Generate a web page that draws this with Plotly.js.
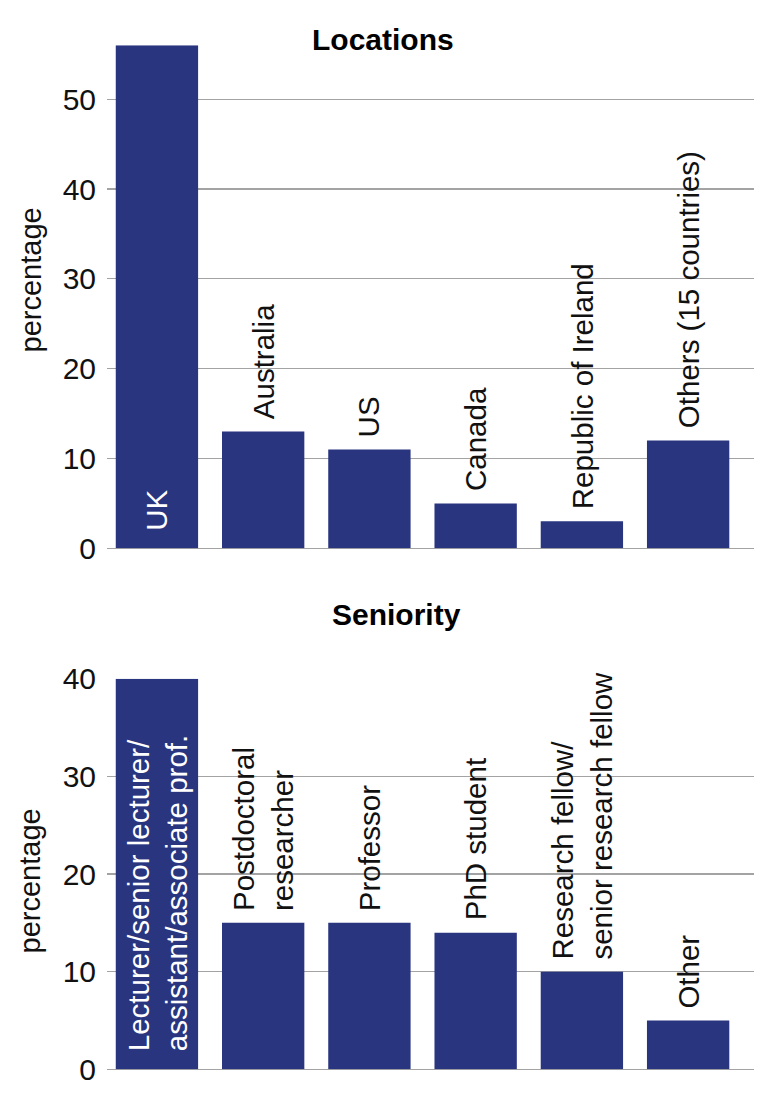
<!DOCTYPE html>
<html>
<head>
<meta charset="utf-8">
<script src="https://cdn.plot.ly/plotly-3.0.1.min.js"></script>
<style>
html,body{margin:0;padding:0;background:#ffffff;}
#chart{width:780px;height:1102px;}
</style>
</head>
<body>
<div id="chart"></div>
<script>
// ---- data ----
const locCategories = ['UK', 'Australia', 'US', 'Canada', 'Republic of Ireland', 'Others (15 countries)'];
const locValues = [56, 13, 11, 5, 3, 12];
const locLabels = ['UK', 'Australia', 'US', 'Canada', 'Republic of Ireland', 'Others (15 countries)'];

const senCategories = ['Lecturer/senior lecturer/assistant/associate prof.', 'Postdoctoral researcher', 'Professor', 'PhD student', 'Research fellow/senior research fellow', 'Other'];
const senValues = [40, 15, 15, 14, 10, 5];
const senLabels = ['Lecturer/senior lecturer/<br>assistant/associate prof.', 'Postdoctoral<br>researcher', 'Professor', 'PhD student', 'Research fellow/<br>senior research fellow', 'Other'];

const topTicks = [0, 10, 20, 30, 40, 50];
const bottomTicks = [0, 10, 20, 30, 40];

const topTitle = 'Locations';
const bottomTitle = 'Seniority';
const yTitle = 'percentage';

// ---- styles ----
const BAR = '#29357f';
const GRID = '#a3a3a3';
const INK = '#111111';
const SANS = 'Liberation Sans, Arial, sans-serif';

const traces = [
  {type: 'bar', x: locCategories, y: locValues, xaxis: 'x', yaxis: 'y',
   marker: {color: BAR}, hoverinfo: 'x+y', showlegend: false},
  {type: 'bar', x: senCategories, y: senValues, xaxis: 'x2', yaxis: 'y2',
   marker: {color: BAR}, hoverinfo: 'x+y', showlegend: false}
];

function barLabels(cats, vals, labels, xref, yref) {
  const maxV = Math.max(...vals);
  return cats.map((c, i) => {
    const inside = vals[i] === maxV;
    return {
      xref: xref, yref: yref, x: c, y: inside ? 0 : vals[i],
      xanchor: 'center', yanchor: 'bottom', yshift: inside ? 16 : 10,
      textangle: -90, align: 'left', showarrow: false, text: labels[i],
      font: {family: SANS, size: 29.5, color: inside ? '#ffffff' : INK}
    };
  });
}

const annotations = []
  .concat(barLabels(locCategories, locValues, locLabels, 'x', 'y'))
  .concat(barLabels(senCategories, senValues, senLabels, 'x2', 'y2'))
  .concat([
    {xref: 'paper', yref: 'paper', x: 0.4266, y: 0.9646, xanchor: 'center', yanchor: 'middle',
     showarrow: false, text: topTitle, font: {family: SANS, size: 30, color: '#000', weight: 'bold'}},
    {xref: 'paper', yref: 'paper', x: 0.4482, y: 0.4428, xanchor: 'center', yanchor: 'middle',
     showarrow: false, text: bottomTitle, font: {family: SANS, size: 30, color: '#000', weight: 'bold'}},
    {xref: 'paper', yref: 'paper', x: -0.1175, y: 0.7464, xanchor: 'center', yanchor: 'middle',
     textangle: -90, showarrow: false, text: yTitle, font: {family: SANS, size: 29, color: INK}},
    {xref: 'paper', yref: 'paper', x: -0.1175, y: 0.2010, xanchor: 'center', yanchor: 'middle',
     textangle: -90, showarrow: false, text: yTitle, font: {family: SANS, size: 29, color: INK}}
  ]);

const xCommon = {type: 'category', range: [-0.47, 5.62], showticklabels: false, showgrid: false,
  zeroline: false, showline: false, ticks: '', fixedrange: true};
const yCommon = {showgrid: true, gridcolor: GRID, gridwidth: 1.2, zeroline: true, zerolinecolor: GRID,
  zerolinewidth: 1.2, showline: false, ticks: '', ticklabelstandoff: 10,
  tickfont: {family: SANS, size: 30, color: INK}, fixedrange: true};

const layout = {
  width: 780, height: 1102,
  margin: {l: 107, r: 26, t: 0, b: 0, pad: 0},
  paper_bgcolor: '#ffffff', plot_bgcolor: '#ffffff',
  font: {family: SANS},
  bargap: 0.225,
  showlegend: false,
  xaxis: Object.assign({}, xCommon, {domain: [0, 1], anchor: 'y'}),
  yaxis: Object.assign({}, yCommon, {domain: [0.50245, 0.95889], range: [0, 56], tickvals: topTicks, ticktext: topTicks.map(String), anchor: 'x'}),
  xaxis2: Object.assign({}, xCommon, {domain: [0, 1], anchor: 'y2'}),
  yaxis2: Object.assign({}, yCommon, {domain: [0.02967, 0.38403], range: [0, 40], tickvals: bottomTicks, ticktext: bottomTicks.map(String), anchor: 'x2'}),
  annotations: annotations
};

Plotly.newPlot('chart', traces, layout, {displayModeBar: false, staticPlot: true});
</script>
</body>
</html>
